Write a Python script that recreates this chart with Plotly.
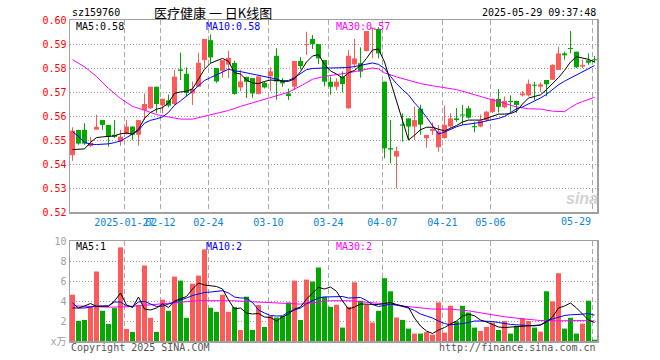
import plotly.graph_objects as go

# ---------------- data ----------------
tick_idx = [9, 15, 23, 33, 43, 52, 62, 70, 87]
tick_text = ['2025-01-27', '02-12', '02-24', '03-10', '03-24', '04-07', '04-21', '05-06', '05-29']

open_ = [0.5437, 0.5542, 0.5542, 0.5475, 0.5543, 0.5583, 0.5563, 0.5522, 0.5493, 0.5525,
         0.5556, 0.5522, 0.5625, 0.5632, 0.5722, 0.5644, 0.5665, 0.5650, 0.5794, 0.5776,
         0.5694, 0.5722, 0.5833, 0.5916, 0.5800, 0.5788, 0.5814, 0.5821, 0.5719, 0.5763,
         0.5758, 0.5692, 0.5738, 0.5765, 0.5851, 0.5748, 0.5694, 0.5722, 0.5829, 0.5896,
         0.5921, 0.5900, 0.5833, 0.5743, 0.5722, 0.5765, 0.5632, 0.5815, 0.5820, 0.5871,
         0.5963, 0.5963, 0.5743, 0.5466, 0.5431, 0.5565, 0.5590, 0.5556, 0.5630, 0.5507,
         0.5538, 0.5470, 0.5508, 0.5556, 0.5590, 0.5606, 0.5632, 0.5558, 0.5556, 0.5583,
         0.5617, 0.5671, 0.5636, 0.5663, 0.5663, 0.5686, 0.5686, 0.5729, 0.5722, 0.5750,
         0.5751, 0.5792, 0.5861, 0.5882, 0.5868, 0.5806, 0.5832, 0.5836]
high = [0.5553, 0.5542, 0.5570, 0.5513, 0.5605, 0.5583, 0.5563, 0.5583, 0.5542, 0.5583,
        0.5556, 0.5583, 0.5694, 0.5722, 0.5722, 0.5672, 0.5689, 0.5792, 0.5864, 0.5803,
        0.5744, 0.5864, 0.5921, 0.5940, 0.5800, 0.5833, 0.5872, 0.5830, 0.5792, 0.5763,
        0.5758, 0.5765, 0.5744, 0.5803, 0.5883, 0.5758, 0.5714, 0.5829, 0.5846, 0.5951,
        0.5938, 0.5900, 0.5833, 0.5764, 0.5757, 0.5786, 0.5875, 0.5921, 0.5886, 0.5954,
        0.5968, 0.5970, 0.5743, 0.5583, 0.5472, 0.5611, 0.5590, 0.5639, 0.5647, 0.5521,
        0.5573, 0.5563, 0.5643, 0.5611, 0.5633, 0.5646, 0.5642, 0.5576, 0.5606, 0.5621,
        0.5672, 0.5712, 0.5681, 0.5686, 0.5663, 0.5704, 0.5752, 0.5742, 0.5740, 0.5750,
        0.5816, 0.5889, 0.5868, 0.5954, 0.5868, 0.5835, 0.5861, 0.5850]
low = [0.5413, 0.5480, 0.5480, 0.5471, 0.5543, 0.5542, 0.5472, 0.5508, 0.5476, 0.5522,
       0.5500, 0.5476, 0.5583, 0.5629, 0.5611, 0.5611, 0.5636, 0.5646, 0.5750, 0.5682,
       0.5646, 0.5722, 0.5800, 0.5821, 0.5738, 0.5760, 0.5758, 0.5689, 0.5703, 0.5675,
       0.5676, 0.5690, 0.5715, 0.5703, 0.5667, 0.5722, 0.5667, 0.5708, 0.5794, 0.5854,
       0.5879, 0.5817, 0.5724, 0.5689, 0.5708, 0.5698, 0.5630, 0.5801, 0.5760, 0.5868,
       0.5840, 0.5840, 0.5424, 0.5403, 0.5299, 0.5493, 0.5500, 0.5500, 0.5522, 0.5468,
       0.5521, 0.5451, 0.5506, 0.5550, 0.5576, 0.5563, 0.5589, 0.5532, 0.5553, 0.5576,
       0.5613, 0.5615, 0.5632, 0.5617, 0.5613, 0.5681, 0.5681, 0.5667, 0.5700, 0.5682,
       0.5750, 0.5792, 0.5835, 0.5861, 0.5800, 0.5800, 0.5813, 0.5822]
close = [0.5539, 0.5485, 0.5485, 0.5488, 0.5555, 0.5563, 0.5514, 0.5513, 0.5514, 0.5556,
         0.5522, 0.5583, 0.5650, 0.5722, 0.5650, 0.5672, 0.5643, 0.5764, 0.5788, 0.5696,
         0.5713, 0.5822, 0.5921, 0.5844, 0.5744, 0.5833, 0.5842, 0.5692, 0.5744, 0.5742,
         0.5694, 0.5765, 0.5719, 0.5786, 0.5744, 0.5736, 0.5683, 0.5829, 0.5808, 0.5900,
         0.5900, 0.5840, 0.5743, 0.5722, 0.5743, 0.5733, 0.5851, 0.5840, 0.5785, 0.5954,
         0.5968, 0.5861, 0.5465, 0.5460, 0.5454, 0.5560, 0.5556, 0.5583, 0.5564, 0.5521,
         0.5546, 0.5536, 0.5563, 0.5590, 0.5583, 0.5602, 0.5593, 0.5553, 0.5581, 0.5618,
         0.5672, 0.5638, 0.5663, 0.5658, 0.5646, 0.5694, 0.5734, 0.5726, 0.5732, 0.5732,
         0.5813, 0.5861, 0.5853, 0.5879, 0.5803, 0.5813, 0.5822, 0.5832]
volume = [4.63, 2.01, 2.11, 3.40, 6.95, 3.02, 1.71, 3.29, 9.36, 1.21,
          0.91, 3.59, 7.55, 2.32, 0.91, 4.13, 3.02, 6.44, 6.04, 2.32,
          5.74, 6.54, 9.16, 3.32, 2.92, 4.63, 2.92, 3.40, 1.10, 4.43,
          1.10, 3.60, 1.40, 2.50, 2.35, 2.50, 3.86, 6.04, 2.10, 6.14,
          5.94, 7.35, 4.43, 3.42, 3.62, 1.34, 3.42, 5.87, 4.03, 3.62,
          1.85, 3.02, 6.28, 4.97, 2.35, 2.11, 1.24, 0.74, 0.74, 0.90,
          0.64, 3.86, 0.84, 3.52, 1.95, 3.52, 2.85, 1.34, 1.00, 1.40,
          1.85, 1.10, 2.00, 0.74, 1.51, 2.28, 2.00, 1.34, 0.94, 4.97,
          3.96, 6.78, 1.24, 2.32, 0.74, 1.74, 4.03, 0.13]

# price moving averages
ma5_val = [0.5460, 0.5460, 0.5463, 0.5490, 0.5510, 0.5513, 0.5515, 0.5517, 0.5526, 0.5529,
           0.5524, 0.5545, 0.5590, 0.5615, 0.5628, 0.5635, 0.5655, 0.5695, 0.5700, 0.5703,
           0.5713, 0.5755, 0.5795, 0.5820, 0.5830, 0.5840, 0.5828, 0.5780, 0.5775, 0.5750,
           0.5738, 0.5735, 0.5744, 0.5750, 0.5748, 0.5745, 0.5744, 0.5755, 0.5785, 0.5825,
           0.5850, 0.5856, 0.5815, 0.5788, 0.5775, 0.5758, 0.5780, 0.5790, 0.5810, 0.5840,
           0.5875, 0.5879, 0.5825, 0.5744, 0.5663, 0.5582, 0.5500, 0.5520, 0.5543, 0.5553,
           0.5553, 0.5545, 0.5538, 0.5549, 0.5560, 0.5575, 0.5583, 0.5583, 0.5583, 0.5590,
           0.5600, 0.5608, 0.5608, 0.5610, 0.5620, 0.5650, 0.5675, 0.5682, 0.5688, 0.5710,
           0.5735, 0.5760, 0.5790, 0.5825, 0.5847, 0.5843, 0.5836, 0.5825]
ma10_val = [0.5535, 0.5515, 0.5490, 0.5483, 0.5481, 0.5482, 0.5484, 0.5489, 0.5496, 0.5510,
            0.5525, 0.5540, 0.5570, 0.5582, 0.5588, 0.5596, 0.5615, 0.5645, 0.5663, 0.5682,
            0.5703, 0.5726, 0.5748, 0.5760, 0.5770, 0.5783, 0.5795, 0.5788, 0.5785, 0.5780,
            0.5773, 0.5768, 0.5762, 0.5758, 0.5754, 0.5745, 0.5748, 0.5760, 0.5778, 0.5793,
            0.5798, 0.5800, 0.5800, 0.5800, 0.5800, 0.5800, 0.5802, 0.5806, 0.5812, 0.5818,
            0.5821, 0.5815, 0.5798, 0.5765, 0.5735, 0.5710, 0.5688, 0.5655, 0.5628, 0.5595,
            0.5560, 0.5525, 0.5533, 0.5545, 0.5555, 0.5563, 0.5567, 0.5568, 0.5573, 0.5580,
            0.5584, 0.5590, 0.5598, 0.5613, 0.5630, 0.5638, 0.5650, 0.5665, 0.5675, 0.5690,
            0.5710, 0.5730, 0.5745, 0.5758, 0.5770, 0.5783, 0.5797, 0.5810]
ma30_idx = [0, 2, 4, 6, 8, 10, 12, 14, 16, 18, 20, 22, 24, 26, 28, 30, 32, 34, 36, 38,
            40, 42, 44, 46, 48, 50, 51, 52, 54, 56, 58, 60, 62, 64, 66, 68, 70, 72, 74, 76,
            78, 80, 82, 83, 84, 85, 86, 87]
ma30_val = [0.5835, 0.5805, 0.5765, 0.5715, 0.5673, 0.5640, 0.5624, 0.5606, 0.5596, 0.5587,
            0.5587, 0.5600, 0.5612, 0.5623, 0.5640, 0.5655, 0.5670, 0.5683, 0.5699, 0.5725,
            0.5753, 0.5765, 0.5771, 0.5780, 0.5790, 0.5800, 0.5796, 0.5780, 0.5763, 0.5748,
            0.5735, 0.5726, 0.5718, 0.5710, 0.5696, 0.5682, 0.5668, 0.5652, 0.5638, 0.5630,
            0.5629, 0.5620, 0.5618, 0.5635, 0.5650, 0.5660, 0.5669, 0.5678]

# volume moving averages
vma5_val = [3.30, 3.30, 3.50, 3.75, 3.45, 3.45, 3.50, 4.00, 4.80, 3.60,
            3.35, 4.40, 3.20, 3.10, 3.30, 3.70, 3.35, 4.00, 4.20, 4.45,
            5.20, 5.80, 5.60, 5.50, 5.45, 5.20, 4.10, 3.20, 3.30, 2.80,
            2.70, 2.75, 2.40, 2.35, 2.00, 2.40, 2.70, 3.20, 3.40, 4.20,
            4.80, 5.37, 5.20, 5.40, 4.97, 4.00, 3.20, 3.40, 3.70, 3.70,
            3.65, 3.65, 3.75, 3.85, 3.65, 3.50, 3.36, 2.30, 1.50, 1.00,
            0.75, 1.10, 1.35, 1.70, 2.00, 2.50, 2.68, 2.52, 2.10, 1.90,
            1.68, 1.40, 1.35, 1.38, 1.41, 1.45, 1.51, 1.55, 1.60, 1.90,
            2.40, 3.30, 3.50, 3.80, 3.30, 2.70, 2.10, 1.85]
vma10_val = [3.80, 3.30, 3.30, 3.40, 3.50, 3.50, 3.50, 3.90, 3.90, 3.52,
             3.45, 3.90, 3.97, 3.70, 3.45, 3.50, 3.70, 3.86, 4.10, 4.30,
             4.55, 4.70, 4.85, 4.90, 4.95, 5.03, 4.80, 4.40, 4.30, 4.30,
             3.85, 3.10, 2.80, 2.55, 2.50, 2.52, 2.90, 3.10, 3.30, 3.75,
             4.05, 4.30, 4.40, 4.43, 4.48, 4.45, 4.30, 4.35, 4.35, 4.05,
             3.65, 3.45, 3.60, 3.68, 3.62, 3.45, 3.30, 3.05, 2.70, 2.50,
             2.30, 2.00, 1.75, 1.62, 1.65, 1.74, 1.85, 2.00, 2.00, 2.00,
             1.95, 1.85, 1.72, 1.66, 1.62, 1.60, 1.55, 1.51, 1.60, 2.00,
             2.20, 2.35, 2.55, 2.62, 2.62, 2.68, 2.75, 2.58]
vma30_idx = [0, 3, 6, 9, 12, 15, 18, 21, 24, 27, 30, 33, 36, 38, 40, 43, 46, 49, 52, 55,
             58, 60, 63, 66, 69, 72, 75, 78, 81, 84, 87]
vma30_val = [3.52, 3.45, 3.38, 3.42, 3.58, 3.72, 3.93, 4.03, 4.03, 4.02, 3.92, 3.85, 3.75,
             3.69, 3.82, 4.03, 4.03, 3.88, 3.72, 3.50, 3.28, 3.19, 3.19, 3.02, 2.72, 2.42,
             2.22, 2.05, 2.01, 2.05, 2.01]

# ---------------- figure ----------------
UP, DOWN = '#ff5a5a', '#00a800'
n = len(close)
idx = list(range(n))
cols = [UP if c >= o else DOWN for o, c in zip(open_, close)]

L, R, T, B = 70, 597, 20, 341
def ax(px):
    return (px - L) / (R - L)
def ay(py):
    return (B - py) / (B - T)

fig = go.Figure()

# wicks
for colr in (UP, DOWN):
    wx, wy = [], []
    for i in idx:
        if cols[i] == colr:
            wx += [i, i, None]
            wy += [low[i], high[i], None]
    fig.add_trace(go.Scatter(x=wx, y=wy, mode='lines', line=dict(color=colr, width=1),
                             hoverinfo='skip', showlegend=False, xaxis='x', yaxis='y'))

# bodies
base = [min(o, c) for o, c in zip(open_, close)]
hgt = [max(abs(c - o), 0.00042) for o, c in zip(open_, close)]
fig.add_trace(go.Bar(x=idx, y=hgt, base=base, width=5 / 6, marker=dict(color=cols, line=dict(width=0)),
                     hoverinfo='skip', showlegend=False, xaxis='x', yaxis='y'))

# price MAs
fig.add_trace(go.Scatter(x=ma30_idx, y=ma30_val, mode='lines', line=dict(color='#ff00ff', width=1),
                         hoverinfo='skip', showlegend=False, xaxis='x', yaxis='y'))
fig.add_trace(go.Scatter(x=idx, y=ma10_val, mode='lines', line=dict(color='#0000ff', width=1),
                         hoverinfo='skip', showlegend=False, xaxis='x', yaxis='y'))
fig.add_trace(go.Scatter(x=idx, y=ma5_val, mode='lines', line=dict(color='#000000', width=1),
                         hoverinfo='skip', showlegend=False, xaxis='x', yaxis='y'))

# volume
fig.add_trace(go.Bar(x=idx, y=volume, width=5 / 6, marker=dict(color=cols, line=dict(width=0)),
                     hoverinfo='skip', showlegend=False, xaxis='x2', yaxis='y2'))
fig.add_trace(go.Scatter(x=vma30_idx, y=vma30_val, mode='lines', line=dict(color='#ff00ff', width=1),
                         hoverinfo='skip', showlegend=False, xaxis='x2', yaxis='y2'))
fig.add_trace(go.Scatter(x=idx, y=vma10_val, mode='lines', line=dict(color='#0000ff', width=1),
                         hoverinfo='skip', showlegend=False, xaxis='x2', yaxis='y2'))
fig.add_trace(go.Scatter(x=idx, y=vma5_val, mode='lines', line=dict(color='#000000', width=1),
                         hoverinfo='skip', showlegend=False, xaxis='x2', yaxis='y2'))

MONO = 'DejaVu Sans Mono, Liberation Mono, monospace'
GRID = '#aaaaaa'
FRAME = '#a0a0a0'
XLAB = '#0a84e0'
xr = [-0.4167, 87.4167]
tv = [t - 0.35 for t in tick_idx]
# last label is drawn right-aligned at its tick (as in the reference)
tt = tick_text[:-1] + ['']

common_x = dict(range=xr, showgrid=True, gridcolor=GRID, griddash='5px,3px', gridwidth=1,
                showline=True, mirror=True, linecolor=FRAME, linewidth=1.5, zeroline=False,
                tickvals=tv, ticks='', fixedrange=True)
fig.update_layout(
    width=660, height=360,
    margin=dict(l=L, r=660 - R, t=T, b=360 - B, autoexpand=False),
    paper_bgcolor='white', plot_bgcolor='white',
    barmode='overlay', showlegend=False,
    xaxis=dict(common_x, domain=[0, 1], anchor='y', ticktext=tt, tickangle=0,
               tickfont=dict(family=MONO, size=10, color=XLAB)),
    xaxis2=dict(common_x, domain=[0, 1], anchor='y2', showticklabels=False),
    yaxis=dict(domain=[ay(212), 1], range=[0.52, 0.60], tickvals=[0.52 + 0.01 * k for k in range(9)],
               tickformat='.2f', tickfont=dict(family=MONO, size=10, color='#ff0000'),
               showgrid=True, gridcolor='#999999', griddash='1px,2px', gridwidth=1,
               showline=True, mirror=True, linecolor=FRAME, linewidth=1.5, zeroline=False,
               ticks='', fixedrange=True),
    yaxis2=dict(domain=[0, ay(241)], range=[0, 10], tickvals=[0, 2, 4, 6, 8, 10],
                ticktext=['x万', '2', '4', '6', '8', '10'],
                tickfont=dict(family=MONO + ', Noto Sans CJK SC', size=10, color='#a0a0a0'),
                showgrid=True, gridcolor='#999999', griddash='1px,2px', gridwidth=1,
                showline=True, mirror=True, linecolor=FRAME, linewidth=1.5, zeroline=False,
                ticks='', fixedrange=True),
)

def txt(s, px, py, color='#000', anchor='left', size=10, family=MONO, **kw):
    fig.add_annotation(text=s, x=ax(px), y=ay(py), xref='paper', yref='paper',
                       xanchor=anchor, yanchor='middle', showarrow=False,
                       font=dict(family=family, size=size, color=color, **kw))

txt('sz159760', 70, 12)
txt('医疗健康 一 日K线图', 213, 12, anchor='center', size=13, family='Noto Sans CJK SC')
txt('2025-05-29 09:37:48', 598, 12, anchor='right')

# last x tick label, right-aligned at its tick line
fig.add_annotation(text=tick_text[-1], x=tv[-1] + 0.1, y=ay(221), xref='x', yref='paper',
                   xanchor='right', yanchor='middle', showarrow=False,
                   font=dict(family=MONO, size=10, color=XLAB))

txt(f'MA5:{ma5_val[-1]:.2f}', 74, 26.5, color='#000000')
txt(f'MA10:{ma10_val[-1]:.2f}', 204, 26.5, color='#0000ff')
txt(f'MA30:{ma30_val[-1]:.2f}', 334, 26.5, color='#ff00ff')

txt(f'MA5:{int(vma5_val[-1])}', 74, 246.5, color='#000000')
txt(f'MA10:{int(vma10_val[-1])}', 204, 246.5, color='#0000ff')
txt(f'MA30:{int(vma30_val[-1])}', 334, 246.5, color='#ff00ff')

txt('Copyright 2025 SINA.COM', 69, 347, color='#555555')
txt('http://finance.sina.com.cn', 598, 347, color='#555555', anchor='right')

txt('sina', 582, 198, color='#d2d2d2', anchor='center', size=16,
    family='Liberation Sans, Arial, sans-serif', weight='bold', style='italic')

fig.write_html('out.html', config={'displayModeBar': False, 'staticPlot': True})
